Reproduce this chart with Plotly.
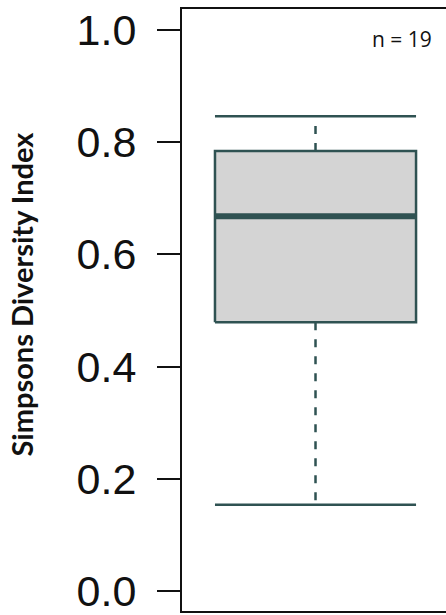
import plotly.graph_objects as go

# ---- data ----
stat_names = ["lower_whisker", "q1", "median", "q3", "upper_whisker"]
stat_values = [0.154, 0.479, 0.668, 0.784, 0.846]
n_obs = 19
tick_values = [0.0, 0.2, 0.4, 0.6, 0.8, 1.0]
tick_labels = ["0.0", "0.2", "0.4", "0.6", "0.8", "1.0"]
y_title = "Simpsons Diversity Index"

lo, q1, med, q3, hi = stat_values
xc, hw = 1.0, 0.5
LINE = "#2F5252"
FILL = "#D4D4D4"

fig = go.Figure()
# box body
fig.add_trace(go.Scatter(x=[xc-hw, xc+hw, xc+hw, xc-hw, xc-hw], y=[q1, q1, q3, q3, q1],
                         mode="lines", fill="toself", fillcolor=FILL,
                         line=dict(color=LINE, width=2.5), hoverinfo="skip"))
# whiskers (dashed)
for a, b in [(q3, hi), (q1, lo)]:
    fig.add_trace(go.Scatter(x=[xc, xc], y=[a, b], mode="lines",
                             line=dict(color=LINE, width=2.5, dash="8px,9px"), hoverinfo="skip"))
# caps
for v in [hi, lo]:
    fig.add_trace(go.Scatter(x=[xc-hw, xc+hw], y=[v, v], mode="lines",
                             line=dict(color=LINE, width=2.5), hoverinfo="skip"))
# median
fig.add_trace(go.Scatter(x=[xc-hw, xc+hw], y=[med, med], mode="lines",
                         line=dict(color=LINE, width=6), hoverinfo="skip"))

fig.update_layout(
    width=446, height=615,
    margin=dict(l=181, r=0, t=8, b=0),
    paper_bgcolor="white", plot_bgcolor="white",
    showlegend=False,
    xaxis=dict(range=[0.331, 1.649], showticklabels=False, ticks="", showgrid=False,
               zeroline=False, showline=False, fixedrange=True),
    yaxis=dict(range=[-0.0372, 1.039], tickvals=tick_values, ticktext=tick_labels,
               ticks="outside", ticklen=23, tickwidth=2, tickcolor="#111111",
               tickfont=dict(family="Liberation Sans", size=43, color="#111111"),
               ticklabelstandoff=12, ticklabeloverflow="allow",
               showgrid=False, zeroline=False, showline=False, fixedrange=True),
    shapes=[dict(type="rect", xref="paper", yref="paper", x0=0, x1=1.3, y0=0, y1=1,
                 line=dict(color="#111111", width=2), layer="above")],
    annotations=[
        dict(text="<b>" + y_title + "</b>", textangle=-90, xref="paper", yref="paper",
             x=(22-181)/265, y=(615-296)/607, xanchor="center", yanchor="middle",
             showarrow=False, font=dict(family="Lato", size=29, color="#111111")),
        dict(text="n = " + str(n_obs), xref="paper", yref="paper",
             x=(402-181)/265, y=(615-39)/607, xanchor="center", yanchor="middle",
             showarrow=False, font=dict(family="Open Sans", size=21, color="#111111")),
    ],
)
fig.write_html("out.html")
